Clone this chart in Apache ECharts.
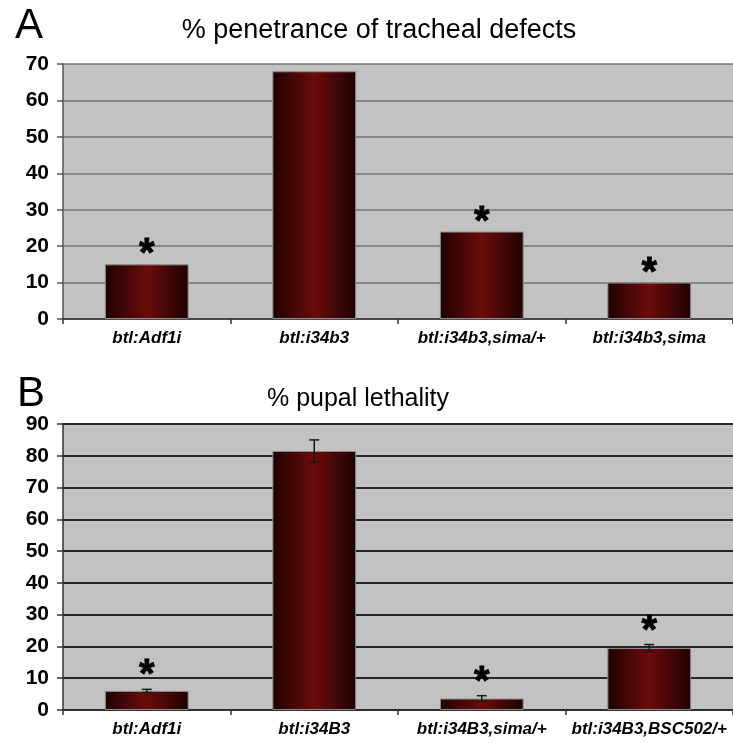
<!DOCTYPE html>
<html>
<head>
<meta charset="utf-8">
<script src="https://cdn.jsdelivr.net/npm/echarts@6/dist/echarts.min.js"></script>
<style>
html,body{margin:0;padding:0;background:#fff;}
#chart{width:733px;height:743px;}
</style>
</head>
<body>
<div id="chart"></div>
<script>
// ---- Data ----
const categoriesA = ['btl:Adf1i', 'btl:i34b3', 'btl:i34b3,sima/+', 'btl:i34b3,sima'];
const valuesA = [15, 68, 24, 10];
const starsA = [true, false, true, true];

const categoriesB = ['btl:Adf1i', 'btl:i34B3', 'btl:i34B3,sima/+', 'btl:i34B3,BSC502/+'];
const valuesB = [6, 81.5, 3.6, 19.5];
const errorsB = [0.5, 3.5, 0.9, 1.1];
const starsB = [true, false, true, true];

const titleA = '% penetrance of tracheal defects';
const titleB = '% pupal lethality';

// ---- Styles ----
const barGradient = new echarts.graphic.LinearGradient(0, 0, 1, 0, [
  {offset: 0, color: '#1e0202'},
  {offset: 0.5, color: '#6c0b0b'},
  {offset: 1, color: '#1e0202'}
]);

function starSeries(xi, yi, values, errs, stars, offset) {
  return {
    type: 'custom',
    xAxisIndex: xi, yAxisIndex: yi,
    silent: true, z: 10,
    data: values.map((v, i) => [i, v + (errs ? errs[i] : 0), stars[i] ? 1 : 0]),
    renderItem: function (params, api) {
      if (!api.value(2)) return null;
      const p = api.coord([api.value(0), api.value(1)]);
      return {
        type: 'text',
        style: {
          text: '*', x: p[0], y: p[1] - offset,
          textAlign: 'center', textVerticalAlign: 'middle',
          font: 'bold 40px "Liberation Sans", Arial, sans-serif', fill: '#000',
          stroke: '#000', lineWidth: 0.8
        }
      };
    }
  };
}

const chart = echarts.init(document.getElementById('chart'), null, {renderer: 'canvas'});

const yLabel = {color: '#000', fontSize: 21, fontWeight: 'bold', fontFamily: 'Liberation Sans', margin: 14};
const xLabel = {color: '#000', fontSize: 17, fontWeight: 'bold', fontStyle: 'italic', fontFamily: 'Liberation Sans', margin: 11, interval: 0};

chart.setOption({
  animation: false,
  backgroundColor: '#fff',
  title: [
    {text: 'A', left: 10, top: 0, textStyle: {fontSize: 42, fontWeight: 'normal', color: '#000', fontFamily: 'Liberation Sans'}},
    {text: titleA, left: 374, top: 12, textAlign: 'center', textStyle: {fontSize: 27, fontWeight: 'normal', color: '#000', fontFamily: 'Liberation Sans'}},
    {text: 'B', left: 12, top: 368, textStyle: {fontSize: 42, fontWeight: 'normal', color: '#000', fontFamily: 'Liberation Sans'}},
    {text: titleB, left: 353, top: 382, textAlign: 'center', textStyle: {fontSize: 25, fontWeight: 'normal', color: '#000', fontFamily: 'Liberation Sans'}}
  ],
  grid: [
    {left: 63, top: 64, width: 670, height: 255, show: true, backgroundColor: '#c2c2c2', borderWidth: 0},
    {left: 63, top: 424, width: 670, height: 286, show: true, backgroundColor: '#c2c2c2', borderWidth: 0}
  ],
  xAxis: [
    {type: 'category', gridIndex: 0, data: categoriesA, boundaryGap: true,
     axisLine: {lineStyle: {color: '#333', width: 1.5}},
     axisTick: {show: true, length: 5, lineStyle: {color: '#333', width: 1.5}},
     axisLabel: xLabel},
    {type: 'category', gridIndex: 1, data: categoriesB, boundaryGap: true,
     axisLine: {lineStyle: {color: '#333', width: 1.5}},
     axisTick: {show: true, length: 5, lineStyle: {color: '#333', width: 1.5}},
     axisLabel: xLabel}
  ],
  yAxis: [
    {type: 'value', gridIndex: 0, min: 0, max: 70, interval: 10,
     axisLine: {show: true, lineStyle: {color: '#555', width: 1.5}},
     axisTick: {show: true, length: 6, lineStyle: {color: '#555', width: 1.5}},
     splitLine: {show: true, lineStyle: {color: '#737373', width: 1.5}},
     axisLabel: yLabel},
    {type: 'value', gridIndex: 1, min: 0, max: 90, interval: 10,
     axisLine: {show: true, lineStyle: {color: '#333', width: 1.5}},
     axisTick: {show: true, length: 6, lineStyle: {color: '#333', width: 1.5}},
     splitLine: {show: true, lineStyle: {color: '#262626', width: 2}},
     axisLabel: yLabel}
  ],
  series: [
    {type: 'bar', xAxisIndex: 0, yAxisIndex: 0, data: valuesA, barWidth: '50%',
     itemStyle: {color: barGradient, borderColor: '#8a8a8a', borderWidth: 1}},
    {type: 'bar', xAxisIndex: 1, yAxisIndex: 1, data: valuesB, barWidth: '50%',
     itemStyle: {color: barGradient, borderColor: '#8a8a8a', borderWidth: 1}},
    {
      type: 'custom', xAxisIndex: 1, yAxisIndex: 1, silent: true, z: 5,
      data: valuesB.map((v, i) => [i, v - errorsB[i], v + errorsB[i]]),
      renderItem: function (params, api) {
        const lo = api.coord([api.value(0), api.value(1)]);
        const hi = api.coord([api.value(0), api.value(2)]);
        const hw = 5;
        const st = {stroke: '#1a1a1a', lineWidth: 1.5};
        return {
          type: 'group',
          children: [
            {type: 'line', shape: {x1: hi[0], y1: hi[1], x2: lo[0], y2: lo[1]}, style: st},
            {type: 'line', shape: {x1: hi[0] - hw, y1: hi[1], x2: hi[0] + hw, y2: hi[1]}, style: st},
            {type: 'line', shape: {x1: lo[0] - hw, y1: lo[1], x2: lo[0] + hw, y2: lo[1]}, style: st}
          ]
        };
      }
    },
    starSeries(0, 0, valuesA, null, starsA, 9),
    starSeries(1, 1, valuesB, errorsB, starsB, 13)
  ]
});
</script>
</body>
</html>
